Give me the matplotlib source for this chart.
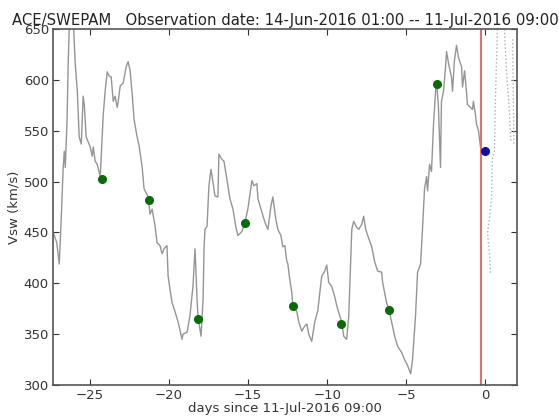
import numpy as np
import matplotlib
matplotlib.use('Agg')
import matplotlib.pyplot as plt

# observed solar wind speed (days since 11-Jul-2016 09:00, km/s)
days = [-27.32, -27.1, -26.94, -26.8, -26.69, -26.62, -26.56, -26.45, -26.37, -26.25,
        -26.15, -26.06, -25.93, -25.80, -25.68, -25.55, -25.43, -25.36, -25.24, -25.11,
        -24.98, -24.86, -24.79, -24.67, -24.54, -24.35, -24.16, -24.04, -23.91, -23.79,
        -23.66, -23.53, -23.41, -23.28, -23.22, -23.09, -22.90, -22.71, -22.59, -22.46,
        -22.33, -22.21, -22.02, -21.89, -21.70, -21.58, -21.32, -21.20, -21.07, -20.88,
        -20.76, -20.57, -20.44, -20.32, -20.13, -20.06, -19.94, -19.81, -19.62, -19.43,
        -19.18, -19.12, -18.86, -18.68, -18.49, -18.36, -18.23, -18.17, -17.98, -17.85,
        -17.79, -17.73, -17.60, -17.48, -17.35, -17.22, -17.10, -16.91, -16.85, -16.66,
        -16.53, -16.34, -16.15, -15.96, -15.77, -15.65, -15.39, -15.20, -15.02, -14.76,
        -14.64, -14.45, -14.38, -14.13, -13.94, -13.75, -13.56, -13.44, -13.25, -13.12,
        -12.93, -12.81, -12.68, -12.56, -12.49, -12.37, -12.24, -12.18, -11.92, -11.80,
        -11.61, -11.42, -11.29, -11.17, -10.98, -10.79, -10.60, -10.35, -10.16, -10.03,
        -9.91, -9.72, -9.53, -9.40, -9.21, -9.09, -8.96, -8.77, -8.64, -8.45,
        -8.33, -8.14, -8.01, -7.82, -7.70, -7.57, -7.44, -7.19, -7.00, -6.81,
        -6.56, -6.50, -6.25, -6.12, -5.93, -5.74, -5.55, -5.30, -5.11, -4.92,
        -4.73, -4.61, -4.42, -4.29, -4.10, -3.97, -3.85, -3.72, -3.66, -3.53,
        -3.41, -3.28, -3.15, -3.09, -2.97, -2.84, -2.78, -2.65, -2.52, -2.46,
        -2.33, -2.15, -2.08, -1.96, -1.83, -1.70, -1.51, -1.45, -1.32, -1.20,
        -1.14, -0.95, -0.82, -0.76, -0.63, -0.57, -0.44, -0.32]
vsw = [450, 440, 419, 470, 515, 530, 514, 560, 620, 680,
       690, 660, 616, 589, 544, 537, 584, 576, 544, 539,
       534, 525, 534, 520, 517, 505, 566, 589, 608, 604,
       603, 579, 584, 573, 578, 594, 597, 613, 618, 609,
       586, 561, 544, 535, 514, 493, 485, 468, 473, 456,
       440, 437, 429, 434, 437, 407, 394, 381, 372, 362,
       345, 350, 352, 368, 397, 434, 384, 367, 348, 384,
       434, 453, 456, 496, 512, 499, 486, 485, 527, 522,
       520, 502, 483, 473, 455, 447, 451, 460, 473, 501,
       496, 498, 483, 470, 460, 453, 476, 485, 463, 453,
       447, 436, 437, 422, 419, 404, 391, 378, 372, 362,
       353, 358, 360, 350, 343, 362, 373, 407, 412, 418,
       401, 397, 387, 378, 368, 362, 348, 345, 368, 453,
       461, 455, 453, 458, 466, 453, 447, 436, 421, 412,
       411, 401, 381, 375, 362, 348, 338, 332, 325, 319,
       311, 325, 368, 411, 419, 456, 493, 505, 491, 517,
       510, 557, 589, 599, 573, 514, 579, 589, 613, 628,
       616, 603, 589, 619, 634, 622, 613, 593, 609, 589,
       576, 573, 571, 579, 566, 557, 550, 535]

# sampled points
green_days = [-24.25, -21.26, -18.2, -15.17, -12.15, -9.12, -6.1, -3.09]
green_vsw = [503, 482, 365, 459, 378, 360, 374, 596]
blue_day = [-0.05]
blue_vsw = [530]
now_day = -0.3

# dotted projections
proj_a_days = [0.76, 0.63, 0.57, 0.44, 0.38, 0.25, 0.13, 0.25, 0.32]
proj_a_vsw = [650, 581, 530, 522, 483, 463, 450, 430, 410]
proj_b_days = [1.2, 1.32, 1.5, 1.6]
proj_b_vsw = [650, 610, 575, 540]
proj_c_days = [1.72, 1.75, 1.8]
proj_c_vsw = [640, 600, 537]

fig = plt.figure(figsize=(5.59, 4.16), dpi=100)
ax = fig.add_axes([0.095, 0.0745, 0.83, 0.8555])

ax.plot(days, vsw, color='#959595', linewidth=1.0)
ax.plot(proj_a_days, proj_a_vsw, color='#b0b0b0', linestyle=':', linewidth=1.0)
ax.plot(proj_b_days, proj_b_vsw, color='#b0b0b0', linestyle=':', linewidth=1.0)
ax.plot(proj_c_days, proj_c_vsw, color='#b0b0b0', linestyle=':', linewidth=1.0)
ax.axvline(now_day, color='#e07070', linewidth=1.5)
ax.plot(green_days, green_vsw, 'o', color='#0a6a0a', markersize=5.5)
ax.plot(blue_day, blue_vsw, 'o', color='#1010a0', markersize=5.5)

ax.set_xlim(-27.33, 2)
ax.set_ylim(300, 650)
ax.set_xticks([-25, -20, -15, -10, -5, 0])
ax.set_yticks([300, 350, 400, 450, 500, 550, 600, 650])
ax.tick_params(direction='in', top=True, right=True, labelsize=9.5,
               colors='#333333', length=4, pad=3)
for s in ax.spines.values():
    s.set_color('#555555')
    s.set_linewidth(1.2)

ax.set_xlabel('days since 11-Jul-2016 09:00', fontsize=9.5, color='#333333', labelpad=0)
ax.set_ylabel('Vsw (km/s)', fontsize=9.5, color='#333333', labelpad=2)
ax.set_title('ACE/SWEPAM   Observation date: 14-Jun-2016 01:00 -- 11-Jul-2016 09:00',
             fontsize=10.7, color='#222222', pad=3)

fig.savefig('out.png', dpi=100)
